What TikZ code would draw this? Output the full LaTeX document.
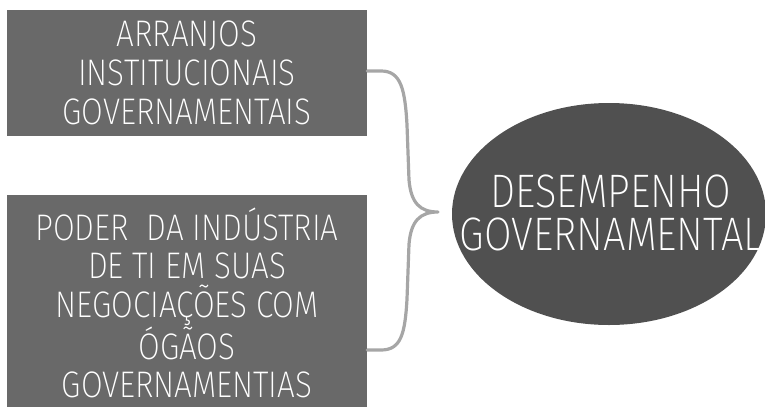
\documentclass[tikz,border=0pt]{standalone}
\usepackage{fontspec}
\IfFontExistsTF{FiraSans-ExtraLight.otf}
  {\setmainfont{FiraSans-ExtraLight.otf}[FakeStretch=0.85]}
  {\IfFontExistsTF{Fira Sans ExtraLight}
    {\setmainfont{Fira Sans ExtraLight}[FakeStretch=0.85]}
    {\IfFontExistsTF{FiraSans-Light.otf}
      {\setmainfont{FiraSans-Light.otf}[FakeStretch=0.85]}
      {\IfFontExistsTF{Fira Sans Light}
        {\setmainfont{Fira Sans Light}[FakeStretch=0.85]}
        {\IfFontExistsTF{Lato Light}
          {\setmainfont{Lato Light}[FakeStretch=0.85]}
          {\setmainfont{Fira Sans}[FakeStretch=0.85]}}}}}
\usetikzlibrary{shapes.geometric}
\definecolor{boxgray}{HTML}{696969}
\definecolor{ellgray}{HTML}{505050}
\definecolor{bracegray}{HTML}{A6A6A6}
\tikzset{
  factorbox/.style={rectangle, fill=boxgray, draw=none, text=white, align=center,
    minimum width=360pt, inner sep=0pt},
  factortext/.style={text=white, align=center, inner sep=0pt},
  resultell/.style={ellipse, fill=ellgray, draw=none, minimum width=314pt,
    minimum height=222pt, inner sep=0pt},
  resulttext/.style={text=white, align=center, inner sep=0pt,
    font=\fontsize{47}{43}\selectfont},
  bracestroke/.style={draw=bracegray, line width=3.2pt, line cap=round, line join=round}
}
\begin{document}
\begin{tikzpicture}[x=1pt,y=-1pt]
\useasboundingbox (0,0) rectangle (765,407);
\node[factorbox, minimum height=126pt, font=\fontsize{37}{39}\selectfont] (arr) at (187,73)
  {ARRANJOS\\INSTITUCIONAIS\\GOVERNAMENTAIS};
\node[factorbox, minimum height=212pt] (pod) at (187,301) {};
\node[factortext, font=\fontsize{37}{38.3}\selectfont, text depth=0pt, anchor=south] (podtext) at (187,397.5)
  {PODER\ \ DA IND\'USTRIA\\DE TI EM SUAS\\NEGOCIA\c{C}\~OES COM\\\'OG\~AOS\\GOVERNAMENTIAS};
\node[resultell] (des) at (609,214) {};
\node[resulttext] (destext) at (611,213) {DESEMPENHO\\GOVERNAMENTAL};
\coordinate (tip) at (438,212);
\coordinate (btop) at (arr.east |- 0,71);
\coordinate (bbot) at (pod.east |- 0,350);
\draw[bracestroke] (btop) -- ++(14,0)
  .. controls ++(20,0) and (405,90) .. (407,125)
  -- (409,180) .. controls (411,203) and (420,212) .. (tip)
  .. controls (420,212) and (411,221) .. (409,244)
  -- (407,299) .. controls (405,334) and (401,350) .. (381,350) -- (bbot);
\end{tikzpicture}
\end{document}
